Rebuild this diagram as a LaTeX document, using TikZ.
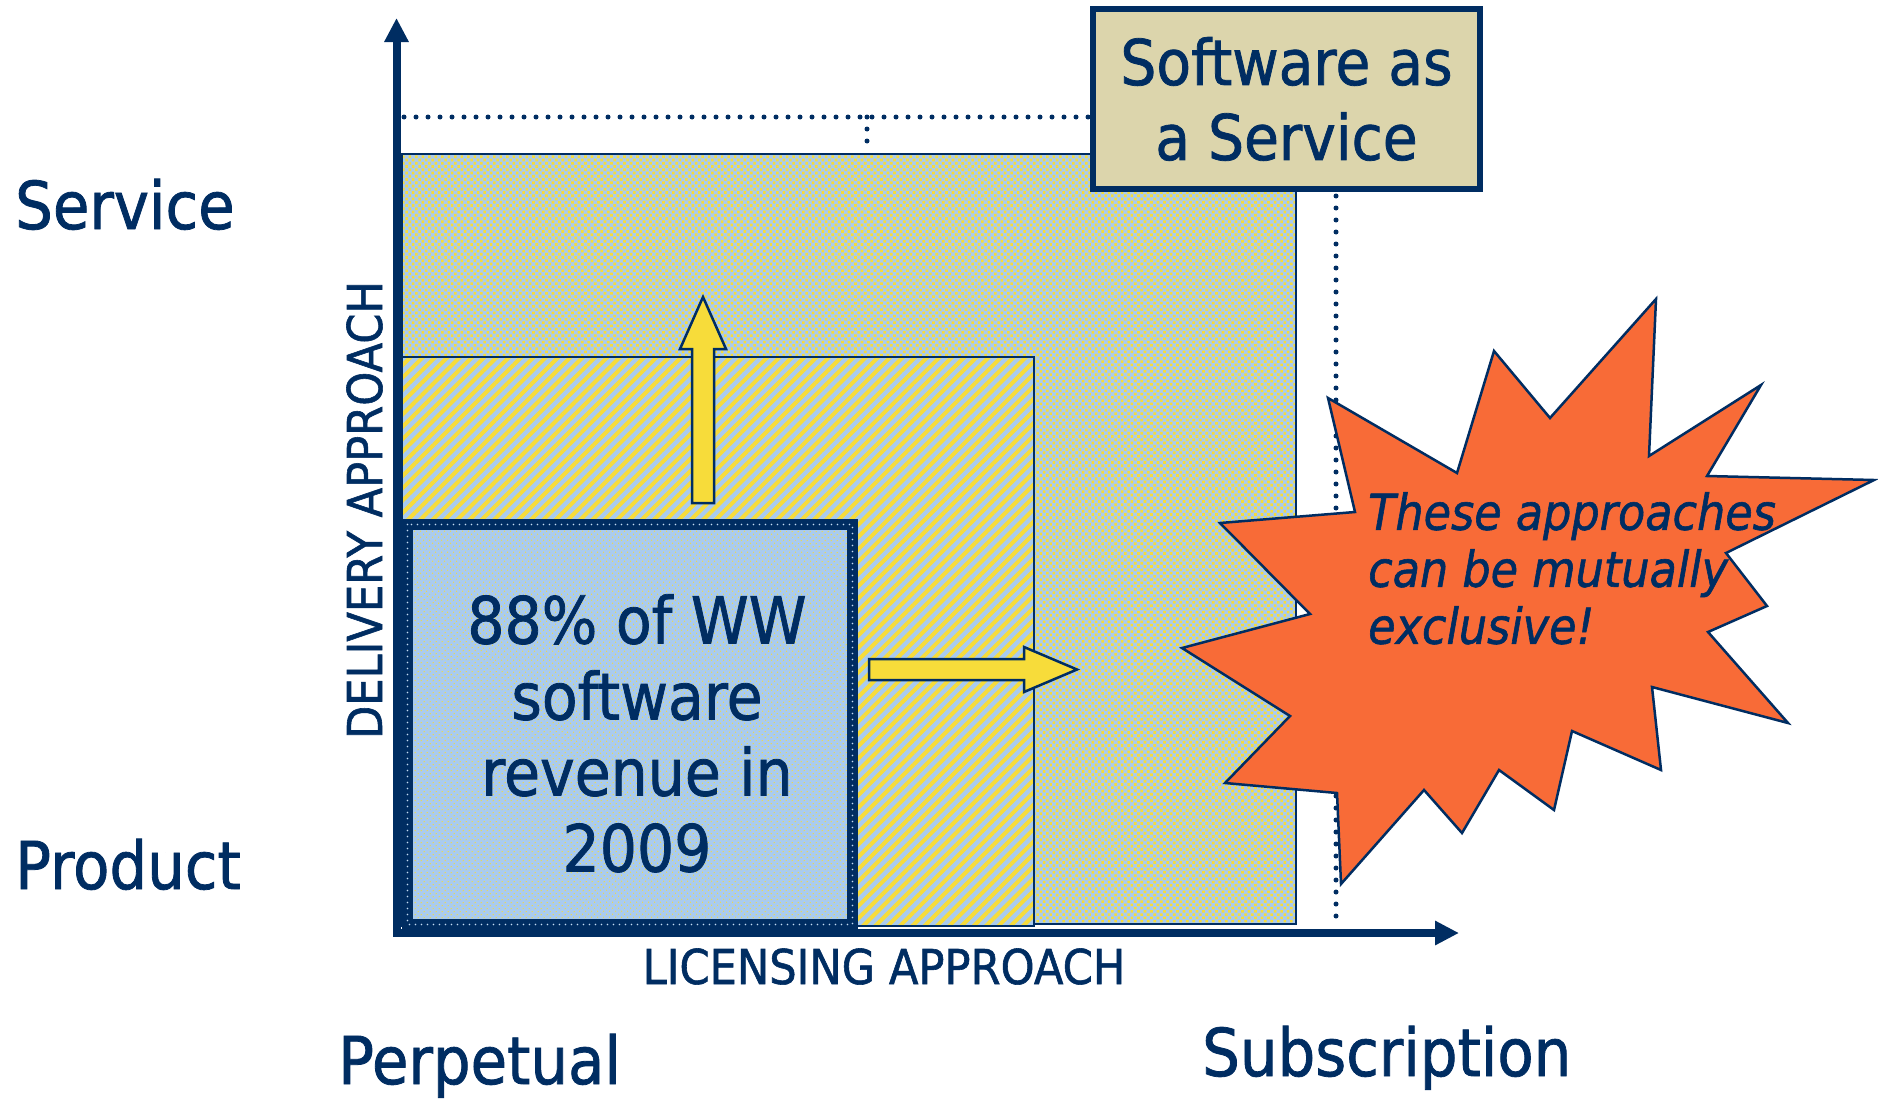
\documentclass[tikz,border=0pt]{standalone}
\usepackage{fontspec}
\setmainfont{DejaVu Sans}[FakeStretch=0.9, FakeBold=1.2]
\usetikzlibrary{patterns.meta,arrows.meta}
\definecolor{navy}{HTML}{002D62}
\definecolor{lblue}{HTML}{A9CBEF}
\definecolor{yel}{HTML}{F7DC3A}
\definecolor{beige}{HTML}{DCD5AC}
\definecolor{orng}{HTML}{F86B37}
\tikzset{
  bigdots/.style={draw=navy, line width=1.5pt,
    preaction={fill=lblue},
    preaction={pattern={Dots[distance=4.6pt, radius=1.85pt, angle=45]}, pattern color=yel}},
  stripes/.style={draw=navy, line width=2pt,
    preaction={fill=lblue},
    preaction={pattern={Lines[angle=45, distance=8.7pt, line width=4pt]}, pattern color=yel}},
  finedots/.style={draw=navy, line width=11pt,
    preaction={fill=lblue},
    preaction={pattern={Dots[distance=4pt, radius=0.7pt, angle=45]}, pattern color=yel}},
  borderdots/.style={draw=lblue!70!white, line width=1.6pt, dash pattern=on 0pt off 6pt, line cap=round},
  dotline/.style={draw=navy, line width=5pt, dash pattern=on 0pt off 12pt, line cap=round},
  yarrow/.style={fill=yel, draw=navy, line width=2.5pt, line join=miter},
  burst/.style={fill=orng, draw=navy, line width=2.5pt, line join=miter},
  axisline/.style={draw=navy, line width=8pt, line join=miter,
    {Triangle[length=24pt,width=23pt]}-{Triangle[length=24pt,width=23pt]}},
  biglab/.style={font=\fontsize{66}{79}\selectfont, text=navy, inner sep=0pt},
  axislab/.style={font=\fontsize{48}{58}\selectfont, text=navy, inner sep=0pt},
}
\begin{document}
\begin{tikzpicture}[x=1pt,y=-1pt]
\useasboundingbox (0,0) rectangle (1878,1100);
\fill[white] (0,0) rectangle (1878,1100);

% regions
\path[bigdots] (402,154) rectangle (1296,924);
\path[stripes] (402,357) rectangle (1034,926);
\path[finedots] (407.5,524.5) rectangle (852.5,924.5);
\path[borderdots] (407.5,524.5) rectangle (852.5,924.5);

% yellow arrows
\path[yarrow] (692,503) -- (714,503) -- (714,349) -- (726,349) -- (703,297)
  -- (680,349) -- (692,349) -- cycle;
\path[yarrow] (869,659) -- (1024,659) -- (1024,647) -- (1077,669.5) -- (1024,692)
  -- (1024,680) -- (869,680) -- cycle;

% dotted guide lines
\path[dotline] (404,117) -- (1092,117);
\path[dotline] (867,117) -- (867,152);
\path[dotline] (1336,196) -- (1336,916);

% Software as a Service box
\node[draw=navy, line width=6pt, fill=beige, minimum width=387pt, minimum height=180pt,
  inner sep=0pt, align=center, text=navy, font=\fontsize{63}{75}\selectfont]
  (saas) at (1286.5,99) {Software as\\a Service};

% starburst
\path[burst] (1656,299) -- (1649,456) -- (1761,385) -- (1707,476) -- (1874,480)
  -- (1726,553) -- (1767,606) -- (1708,632) -- (1788,723) -- (1652,687)
  -- (1661,770) -- (1572,731) -- (1554,810) -- (1499,770) -- (1462,833)
  -- (1424,790) -- (1341,884) -- (1337,793) -- (1225,783) -- (1290,716)
  -- (1182,648) -- (1310,614) -- (1220,523) -- (1355,512) -- (1328,398)
  -- (1457,473) -- (1494,351) -- (1550,418) -- cycle;

% axes
\coordinate (origin) at (396.5,933);
\coordinate (ytip) at (396.5,18);
\coordinate (xtip) at (1459,933);
\path[axisline] (xtip) -- (origin) -- (ytip);

% texts
\node[font=\fontsize{65}{76}\selectfont, text=navy, align=center, inner sep=0pt, anchor=north]
  (rev) at (637,594) {88\% of WW\\software\\revenue in\\2009};
\node[font=\fontsize{49.5}{57}\selectfont\itshape, text=navy, align=left, inner sep=0pt, anchor=north west]
  (warn) at (1368,492) {These approaches\\can be mutually\\exclusive!};
\node[biglab, anchor=base west] (service) at (15,229) {Service};
\node[biglab, anchor=base west] (product) at (15,889) {Product};
\node[biglab, anchor=base west] (perp) at (338,1084) {Perpetual};
\node[biglab, anchor=base west] (subs) at (1202,1076) {Subscription};
\node[axislab, anchor=base] (lic) at (884,984) {LICENSING APPROACH};
\node[axislab, anchor=base, rotate=90] (del) at (382,510) {DELIVERY APPROACH};
\end{tikzpicture}
\end{document}
